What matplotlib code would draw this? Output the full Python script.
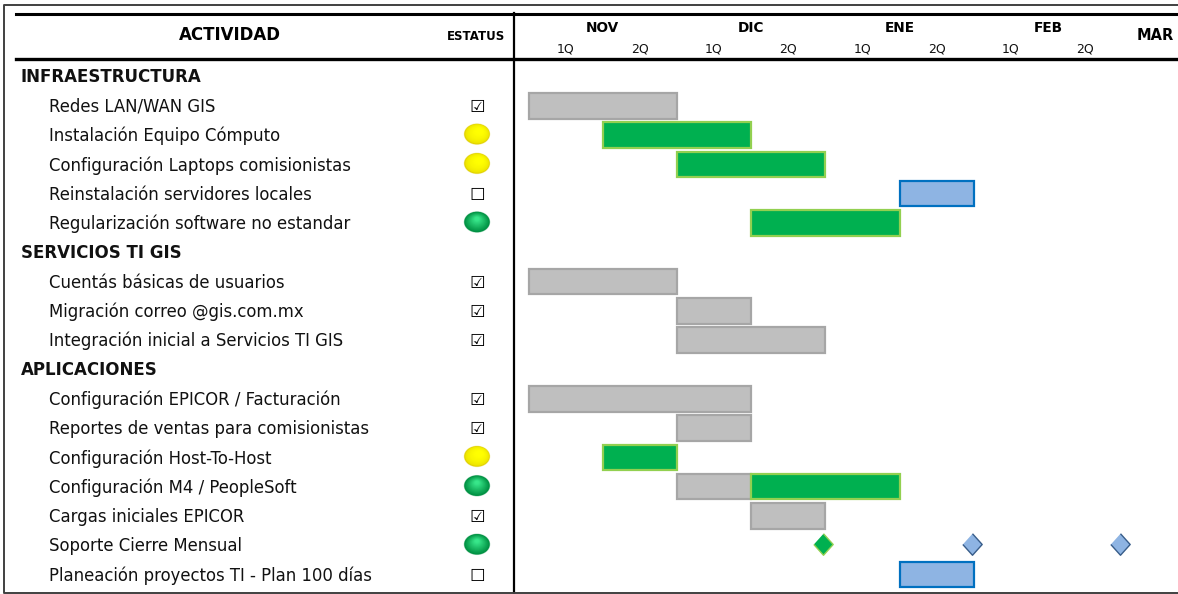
import matplotlib
matplotlib.use('AGG')
import matplotlib.pyplot as plt
from matplotlib.colors import to_rgb
from matplotlib.patches import Ellipse

plt.rcParams['font.family'] = ['DejaVu Sans']

W, H = 1178, 594

# rows of the table, top to bottom; None status marks a section title
activities = [
    'INFRAESTRUCTURA',
    'Redes LAN/WAN GIS',
    'Instalación Equipo Cómputo',
    'Configuración Laptops comisionistas',
    'Reinstalación servidores locales',
    'Regularización software no estandar',
    'SERVICIOS TI GIS',
    'Cuentás básicas de usuarios',
    'Migración correo @gis.com.mx',
    'Integración inicial a Servicios TI GIS',
    'APLICACIONES',
    'Configuración EPICOR / Facturación',
    'Reportes de ventas para comisionistas',
    'Configuración Host-To-Host',
    'Configuración M4 / PeopleSoft',
    'Cargas iniciales EPICOR',
    'Soporte Cierre Mensual',
    'Planeación proyectos TI - Plan 100 días',
]
status = [None, 'done', 'yellow', 'yellow', 'open', 'green',
          None, 'done', 'done', 'done',
          None, 'done', 'done', 'yellow', 'green', 'done', 'green', 'open']

months = ['NOV', 'DIC', 'ENE', 'FEB']
month_pos = [1, 3, 5, 7]
quincenas = ['1Q', '2Q', '1Q', '2Q', '1Q', '2Q', '1Q', '2Q']

# tasks: row, start and end in quincenas counted from 1Q NOV
bar_rows = [1, 2, 3, 4, 5, 7, 8, 9, 11, 12, 13, 14, 14, 15, 17]
bar_start = [0, 1, 2, 5, 3, 0, 2, 2, 0, 2, 1, 2, 3, 3, 5]
bar_end = [2, 3, 4, 6, 5, 2, 3, 4, 3, 3, 2, 3, 5, 4, 6]
bar_kind = ['gray', 'green', 'green', 'blue', 'green', 'gray', 'gray', 'gray',
            'gray', 'gray', 'green', 'gray', 'green', 'gray', 'blue']

# milestones of Soporte Cierre Mensual
mile_pos = [3.97, 5.98, 7.97]
mile_kind = ['green', 'blue', 'blue']

fills = {'gray': '#BFBFBF', 'green': '#00B050', 'blue': '#8EB4E3'}
edges = {'gray': '#A6A6A6', 'green': '#92D050', 'blue': '#0070C0'}
mile_edges = {'green': '#92D050', 'blue': '#385D8A'}

ROW0, ROWH = 76.5, 29.3
Q0, QW = 528.5, 74.2


def row_y(i):
    return ROW0 + ROWH * i


fig = plt.figure(figsize=(W / 100, H / 100), dpi=100, facecolor='white')

# table side and rules, axes in pixel units
ax = fig.add_axes([0, 0, 1, 1])
ax.set_xlim(0, W)
ax.set_ylim(H, 0)
ax.axis('off')

# chart side: x in quincenas, y in rows
left, right, top, bottom = 514, W, 59, 592
gantt = fig.add_axes([left / W, 1 - bottom / H, (right - left) / W, (bottom - top) / H])
gantt.set_xlim((left - Q0) / QW, (right - Q0) / QW)
gantt.set_ylim((bottom - ROW0) / ROWH, (top - ROW0) / ROWH)
gantt.axis('off')

for r, s, e, k in zip(bar_rows, bar_start, bar_end, bar_kind):
    gantt.barh(r, e - s, left=s, height=0.87, color=fills[k], edgecolor=edges[k], linewidth=1.6)

for x, k in zip(mile_pos, mile_kind):
    gantt.plot(x, 15.95, linestyle='none', marker=[(0, 1), (0.9, 0), (0, -1), (-0.9, 0)],
               markersize=15.5, markerfacecolor=fills[k], markeredgecolor=mile_edges[k],
               markeredgewidth=1.0, snap=False)


def sphere(x, y, rim, core, shift, ramp):
    # stacked ellipses to fake the shaded ball, highlight pulled up and to the right
    steps = 16
    rim, core = to_rgb(rim), to_rgb(core)
    ax.add_patch(Ellipse((x, y), 26.5, 21.5, color=rim, lw=0, alpha=0.35))
    for n in range(steps):
        t = n / (steps - 1)
        f = 1 - 0.9 * t
        c = tuple(a + (b - a) * min(1, t ** ramp * 1.1) for a, b in zip(rim, core))
        ax.add_patch(Ellipse((x + shift * t, y - 3.5 * t), 25.5 * f, 20.5 * f, color=c, lw=0))


# table text
for i, (name, st) in enumerate(zip(activities, status)):
    y = row_y(i)
    if st is None:
        ax.text(21, y + 0.5, name, fontsize=12, fontweight='bold', va='center', color='#111111')
        continue
    ax.text(49, y + 1, name, fontsize=11.9, va='center', color='#111111')
    if st == 'done':
        ax.text(477, y + 1, '☑', fontsize=12.5, ha='center', va='center')
    elif st == 'open':
        ax.text(477, y + 1, '☐', fontsize=12.5, ha='center', va='center')
    elif st == 'yellow':
        sphere(477, y - 1, '#E0D000', '#FFFF00', 3, 0.35)
    else:
        sphere(477, y - 1, '#009042', '#38E68A', 0, 1.0)

# header
ax.text(229.5, 35.5, 'ACTIVIDAD', fontsize=12, fontweight='bold', ha='center', va='center')
ax.text(476.5, 36, 'ESTATUS', fontsize=8.5, fontweight='bold', ha='center', va='center')
for m, q in zip(months, month_pos):
    ax.text(Q0 + QW * q, 27.5, m, fontsize=9.8, fontweight='bold', ha='center', va='center')
ax.text(1155, 36, 'MAR', fontsize=10.5, fontweight='bold', ha='center', va='center')
for q, label in enumerate(quincenas):
    ax.text(Q0 + QW * (q + 0.5), 49.5, label, fontsize=9, ha='center', va='center', color='#111111')

# rules and outer frame
ax.plot([16, W], [13.5, 13.5], color='black', lw=2.2)
ax.plot([16, W], [58.5, 58.5], color='black', lw=2.4)
ax.plot([514, 514], [13, 593], color='black', lw=1.6)
ax.plot([W, 4, 4, W], [4.5, 4.5, 592.5, 592.5], color='#404040', lw=1.4)

fig.savefig('out.png', dpi=100)
